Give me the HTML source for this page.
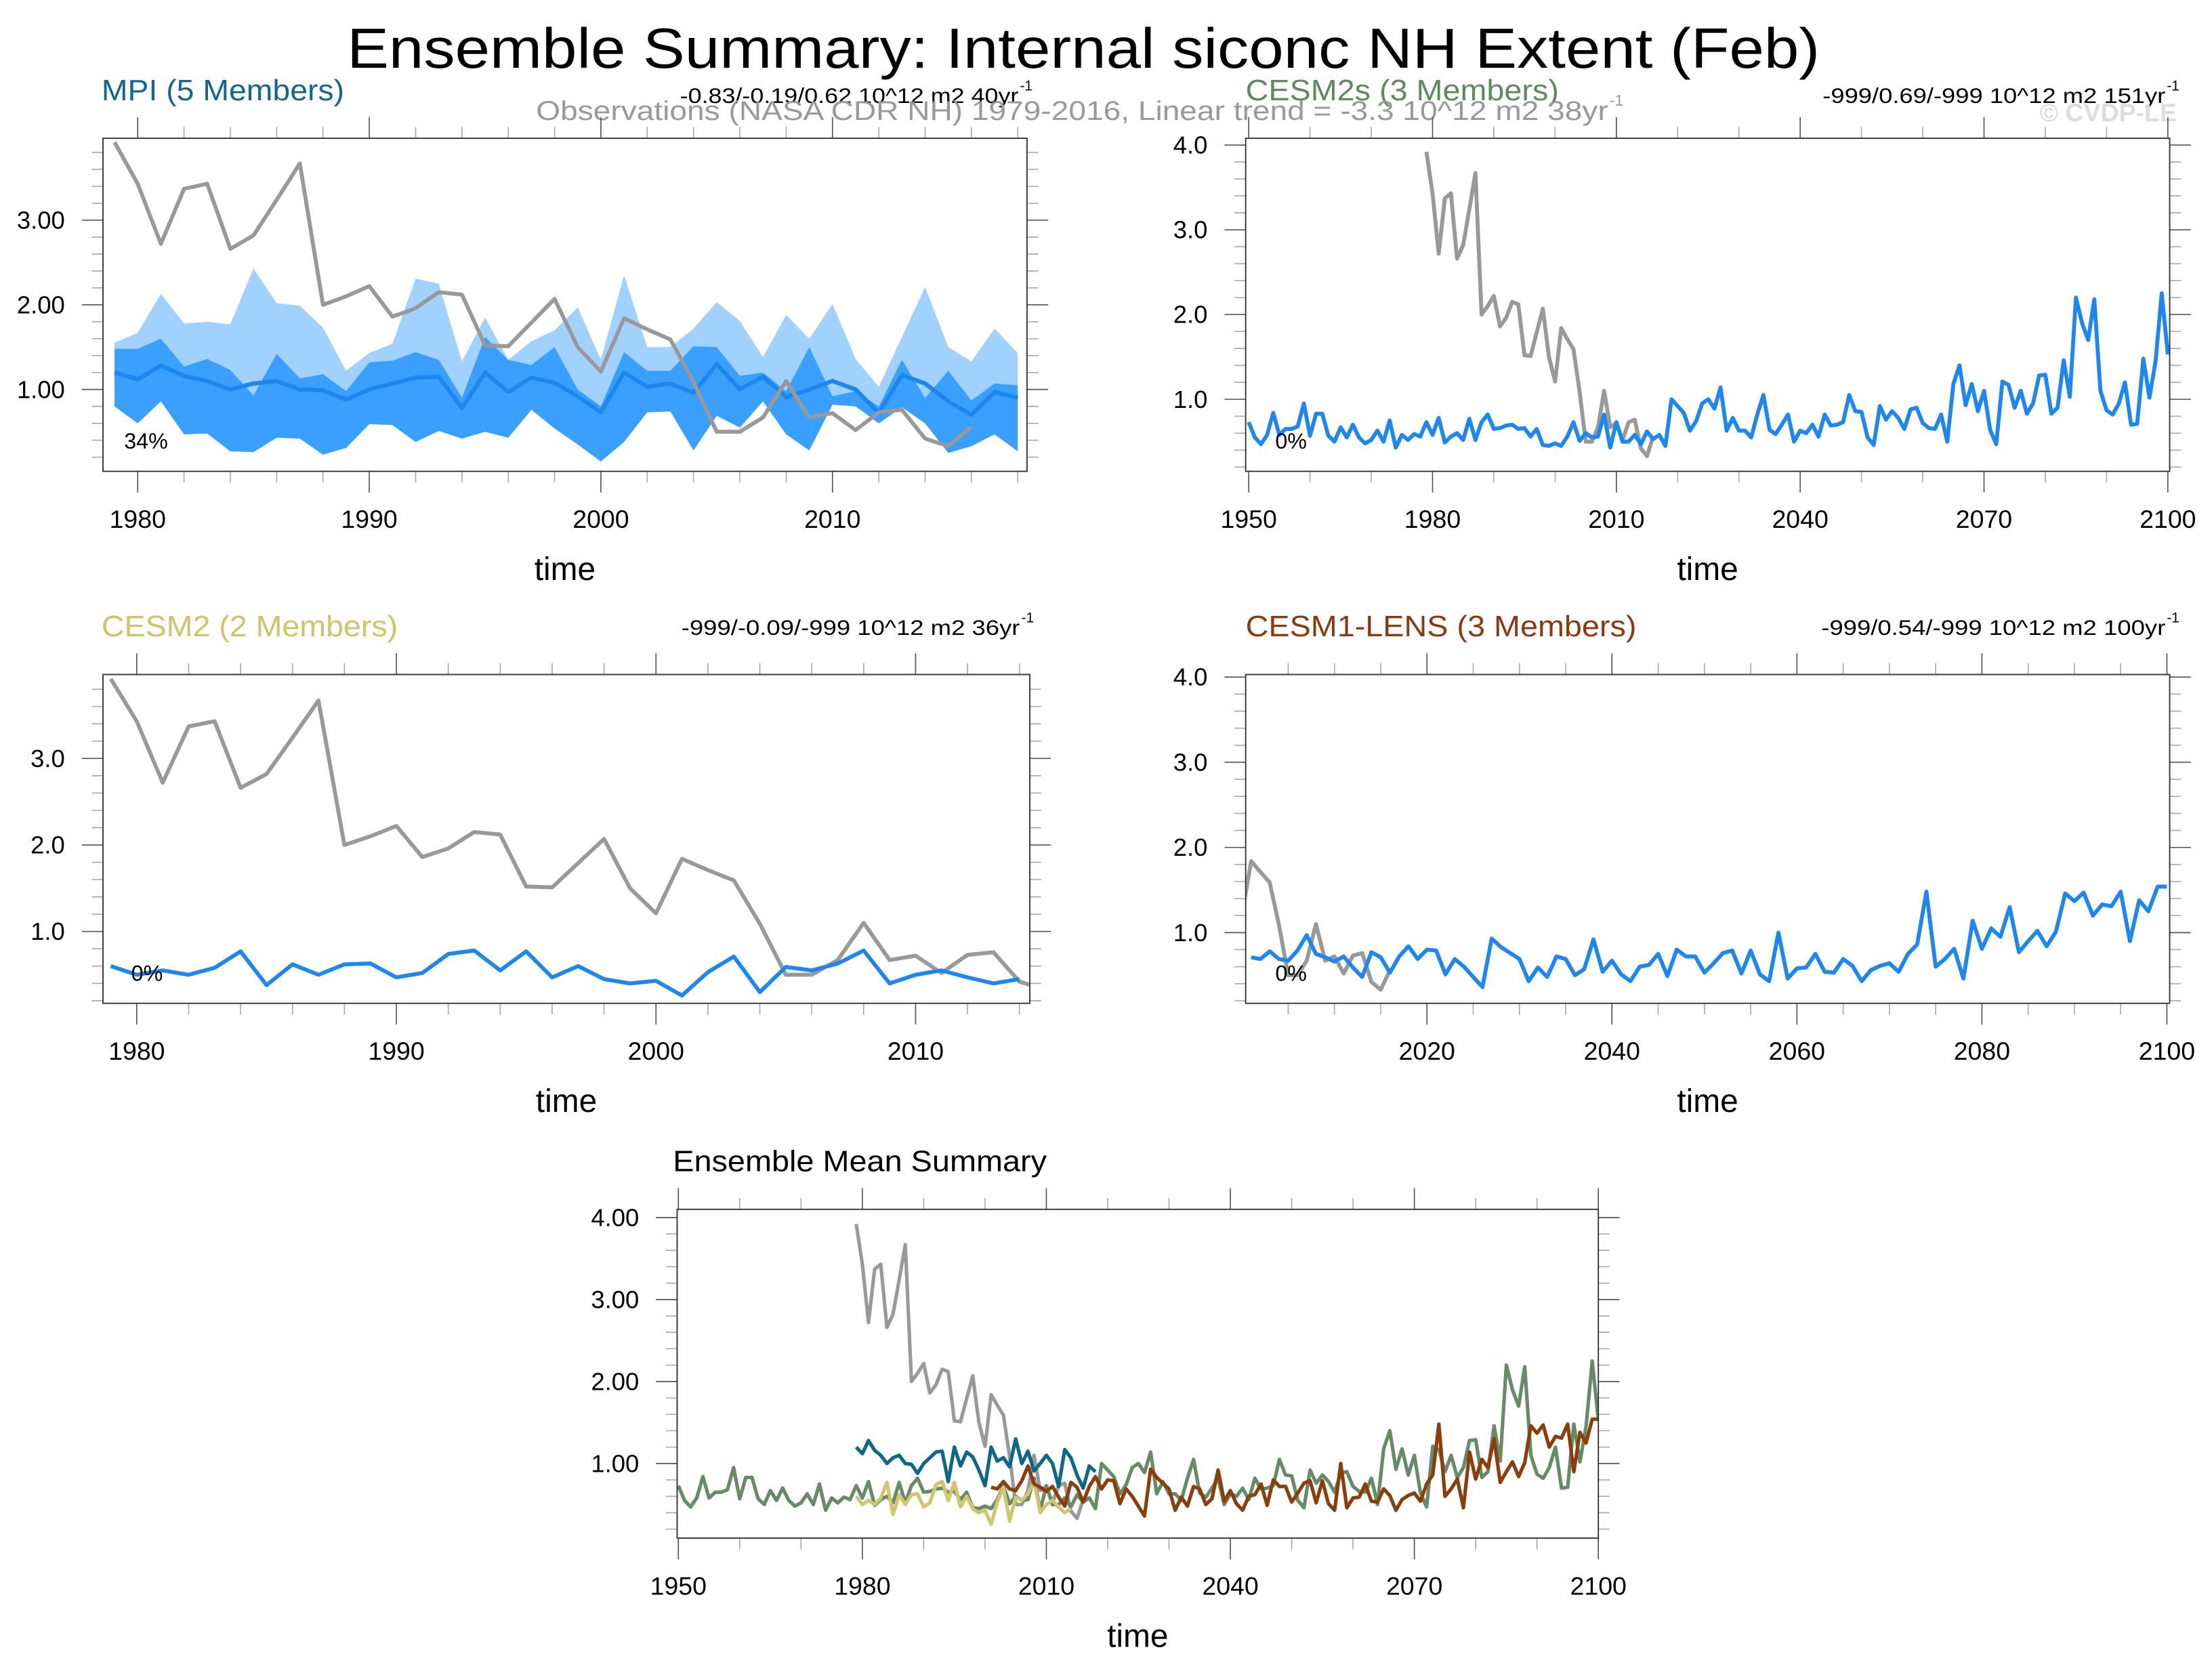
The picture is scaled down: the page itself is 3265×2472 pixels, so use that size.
<!DOCTYPE html>
<html><head><meta charset="utf-8"><style>
html,body{margin:0;padding:0;background:#fff;}
svg{display:block;}
text{font-family:"Liberation Sans",Arial,sans-serif;}
</style></head><body>
<svg id="chart" xmlns="http://www.w3.org/2000/svg" width="3265" height="2472" viewBox="0 0 1568 1187" preserveAspectRatio="none">
<rect x="0" y="0" width="1568" height="1187" fill="#fff"/>
<text x="768" y="48" font-size="40" text-anchor="middle" textLength="1044" lengthAdjust="spacingAndGlyphs">Ensemble Summary: Internal siconc NH Extent (Feb)</text>
<text x="72" y="71" font-size="21" fill="#14678a" textLength="172" lengthAdjust="spacingAndGlyphs">MPI (5 Members)</text>
<text x="482" y="73" font-size="15" textLength="240" lengthAdjust="spacingAndGlyphs">-0.83/-0.19/0.62 10^12 m2 40yr</text>
<text x="723" y="64" font-size="10">-1</text>
<text x="883" y="71" font-size="21" fill="#5f8a5f" textLength="222" lengthAdjust="spacingAndGlyphs">CESM2s (3 Members)</text>
<text x="1292" y="73" font-size="15" textLength="243" lengthAdjust="spacingAndGlyphs">-999/0.69/-999 10^12 m2 151yr</text>
<text x="1536" y="64" font-size="10">-1</text>
<text x="380" y="85" font-size="19" fill="#999" textLength="760" lengthAdjust="spacingAndGlyphs">Observations (NASA CDR NH) 1979-2016, Linear trend = -3.3 10^12 m2 38yr</text>
<text x="1141" y="75" font-size="11" fill="#999">-1</text>
<text x="1543" y="86" font-size="18" font-weight="bold" fill="#ddd" text-anchor="end">© CVDP-LE</text>
<text x="72" y="451" font-size="21" fill="#cdc46c" textLength="210" lengthAdjust="spacingAndGlyphs">CESM2 (2 Members)</text>
<text x="483" y="450" font-size="15" textLength="240" lengthAdjust="spacingAndGlyphs">-999/-0.09/-999 10^12 m2 36yr</text>
<text x="724" y="441" font-size="10">-1</text>
<text x="883" y="451" font-size="21" fill="#8a3a10" textLength="277" lengthAdjust="spacingAndGlyphs">CESM1-LENS (3 Members)</text>
<text x="1291" y="450" font-size="15" textLength="244" lengthAdjust="spacingAndGlyphs">-999/0.54/-999 10^12 m2 100yr</text>
<text x="1536" y="441" font-size="10">-1</text>
<text x="477" y="830" font-size="21" textLength="265" lengthAdjust="spacingAndGlyphs">Ensemble Mean Summary</text>
<g id="plots"></g>
</svg>
<script>
// ---- data ----
const obsYears0 = 1979;
const obsValues = [3.92,3.43,2.72,3.37,3.43,2.66,2.82,3.24,3.67,2.00,2.10,2.22,1.86,1.96,2.15,2.12,1.52,1.51,1.79,2.07,1.50,1.21,1.84,1.71,1.59,1.09,0.50,0.50,0.67,1.10,0.67,0.72,0.52,0.73,0.76,0.42,0.33,0.56];
const mpiStart = 1979;
const mpiMean = [1.20,1.12,1.28,1.16,1.10,1.00,1.07,1.10,1.00,0.99,0.88,1.00,1.07,1.14,1.15,0.78,1.20,0.97,1.14,1.08,0.92,0.73,1.20,1.03,1.07,0.96,1.30,1.00,1.15,0.91,1.00,1.10,1.00,0.72,1.17,1.07,0.86,0.70,0.97,0.90];
const mpiMax = [1.55,1.67,2.13,1.78,1.80,1.77,2.43,2.02,1.99,1.73,1.22,1.43,1.54,2.31,2.25,1.33,1.85,1.35,1.57,1.70,1.97,1.35,2.35,1.50,1.50,1.72,2.03,1.81,1.38,1.88,1.60,2.01,1.36,1.03,1.62,2.21,1.50,1.33,1.72,1.43];
const mpiUpper = [1.48,1.48,1.60,1.27,1.36,1.23,0.93,1.42,1.13,1.18,0.98,1.32,1.34,1.44,1.35,0.90,1.62,1.35,1.29,1.50,1.00,0.80,1.44,1.22,1.22,1.51,1.50,1.16,1.20,0.98,1.50,0.92,0.98,0.80,1.35,0.90,1.22,0.87,1.07,1.05];
const mpiMin = [0.80,0.60,0.86,0.47,0.48,0.27,0.26,0.43,0.42,0.23,0.31,0.59,0.58,0.38,0.51,0.42,0.50,0.43,0.76,0.54,0.35,0.15,0.38,0.73,0.74,0.28,0.69,0.55,0.86,0.47,0.28,0.82,0.80,0.60,0.79,0.60,0.25,0.33,0.47,0.27];
const cesm2sStart = 1950;
const cesm2sMean = [0.73,0.55,0.47,0.58,0.84,0.58,0.65,0.65,0.68,0.95,0.57,0.83,0.83,0.57,0.50,0.67,0.55,0.70,0.55,0.48,0.52,0.63,0.50,0.75,0.43,0.58,0.52,0.59,0.56,0.73,0.58,0.78,0.49,0.56,0.60,0.52,0.77,0.52,0.73,0.82,0.65,0.66,0.69,0.70,0.65,0.66,0.56,0.65,0.46,0.45,0.48,0.45,0.56,0.73,0.51,0.60,0.55,0.56,0.82,0.43,0.73,0.50,0.50,0.58,0.47,0.62,0.53,0.58,0.45,1.00,0.92,0.84,0.63,0.74,0.95,1.00,0.89,1.14,0.63,0.78,0.63,0.63,0.55,0.82,1.05,0.64,0.59,0.70,0.82,0.50,0.63,0.60,0.70,0.56,0.82,0.69,0.70,0.73,1.05,0.86,0.85,0.55,0.46,0.92,0.76,0.86,0.78,0.65,0.88,0.90,0.72,0.66,0.65,0.82,0.50,1.18,1.40,0.93,1.18,0.86,1.10,0.64,0.47,1.21,1.17,0.90,1.10,0.83,0.95,1.28,1.29,0.83,0.90,1.46,1.03,2.20,1.90,1.70,2.18,1.10,0.87,0.82,0.95,1.20,0.70,0.71,1.48,1.02,1.45,2.25,1.53];
const cesm2Start = 1979;
const cesm2Mean = [0.60,0.50,0.55,0.50,0.58,0.77,0.38,0.62,0.50,0.62,0.63,0.47,0.52,0.74,0.78,0.55,0.77,0.47,0.60,0.45,0.40,0.43,0.26,0.53,0.71,0.30,0.59,0.55,0.63,0.78,0.40,0.50,0.55,0.47,0.40,0.45];
const lensStart = 2001;
const lensMean = [0.71,0.69,0.78,0.69,0.67,0.79,0.97,0.75,0.71,0.66,0.72,0.59,0.48,0.77,0.71,0.53,0.72,0.84,0.69,0.80,0.79,0.51,0.69,0.60,0.48,0.36,0.93,0.83,0.76,0.69,0.43,0.59,0.48,0.72,0.69,0.50,0.57,0.92,0.54,0.67,0.51,0.43,0.60,0.62,0.75,0.49,0.80,0.72,0.72,0.53,0.64,0.76,0.79,0.52,0.79,0.51,0.43,1.00,0.46,0.58,0.59,0.75,0.54,0.53,0.69,0.61,0.43,0.56,0.61,0.64,0.54,0.75,0.86,1.48,0.60,0.69,0.81,0.46,1.14,0.81,1.05,0.95,1.30,0.77,0.90,1.02,0.84,1.01,1.46,1.37,1.47,1.20,1.33,1.31,1.48,0.90,1.38,1.25,1.54,1.54];
const pctLabels = ["34%","0%","0%","0%"];

// ---- drawing ----
const NS = "http://www.w3.org/2000/svg";
const root = document.getElementById('plots');
function el(tag, attrs, parent){
  const e = document.createElementNS(NS, tag);
  for (const k in attrs) e.setAttribute(k, attrs[k]);
  (parent||root).appendChild(e);
  return e;
}
function makeAxes(p){
  const sx = v => p.x0 + (v - p.xmin) / (p.xmax - p.xmin) * (p.x1 - p.x0);
  const sy = v => p.y1 - (v - p.ymin) / (p.ymax - p.ymin) * (p.y1 - p.y0);
  const g = el('g', {});
  
  
  const clipId = p.name + '-clip';
  const cp = el('clipPath', {id: clipId}, g);
  el('rect', {x:p.x0, y:p.y0, width:p.x1-p.x0, height:p.y1-p.y0}, cp);
  const marks = el('g', {'clip-path':'url(#'+clipId+')'}, g);
  for (let v = p.xMinorStart; v <= p.xmax + 1e-6; v += p.xMinorStep) {
    const x = sx(v);
    if (x < p.x0 - 0.5 || x > p.x1 + 0.5) continue;
    const isMaj = p.xMajor.some(m => Math.abs(m - v) < 1e-6);
    const L = isMaj ? 15 : 8;
    const t1 = el('line', {x1:x, x2:x, y1:p.y0, y2:p.y0-L, stroke: isMaj?'#555':'#aaa', 'stroke-width':0.8}, g);
    
    
    const t2 = el('line', {x1:x, x2:x, y1:p.y1, y2:p.y1+L, stroke: isMaj?'#555':'#aaa', 'stroke-width':0.8}, g);
    
    
  }
  p.xMajor.forEach(m => {
    const t = el('text', {x:sx(m), y:p.y1+40, 'font-size':18, 'text-anchor':'middle'}, g);
    t.textContent = String(m);
    
    
  });
  for (let k = 1; k * p.yMinorStep <= p.ymax; k++) {
    const v = k * p.yMinorStep;
    if (v < p.ymin) continue;
    const y = sy(v);
    const isMaj = Math.abs(v - Math.round(v)) < 1e-6;
    const L = isMaj ? 15 : 8;
    const a = el('line', {x1:p.x0, x2:p.x0-L, y1:y, y2:y, stroke: isMaj?'#555':'#aaa', 'stroke-width':0.8}, g);
    
    
    const b = el('line', {x1:p.x1, x2:p.x1+L, y1:y, y2:y, stroke: isMaj?'#555':'#aaa', 'stroke-width':0.8}, g);
    
    
    if (isMaj) {
      const t = el('text', {x:p.x0-27, y:y+6, 'font-size':17.5, 'text-anchor':'end'}, g);
      t.textContent = v.toFixed(p.yDec);
      
      
    }
  }
  const tt = el('text', {x:(p.x0+p.x1)/2, y:p.y1+77, 'font-size':23, 'text-anchor':'middle'}, g);
  tt.textContent = 'time';
  
  
  return {sx, sy, g, marks, p};
}
function line(ax, start, vals, color, w, name){
  const pts = vals.map((v,i) => ax.sx(start+i).toFixed(2)+','+ax.sy(v).toFixed(2)).join(' ');
  const e = el('polyline', {points:pts, fill:'none', stroke:color, 'stroke-width':w, 'stroke-linejoin':'round'}, ax.marks);
  
  
}
function band(ax, start, lo, hi, color, name){
  const top = hi.map((v,i) => ax.sx(start+i).toFixed(2)+','+ax.sy(v).toFixed(2));
  const bot = lo.map((v,i) => ax.sx(start+i).toFixed(2)+','+ax.sy(v).toFixed(2)).reverse();
  const e = el('polygon', {points: top.concat(bot).join(' '), fill:color, stroke:'none'}, ax.marks);
  
  
}
function frame(ax){
  const p = ax.p;
  const r = el('rect', {x:p.x0, y:p.y0, width:p.x1-p.x0, height:p.y1-p.y0, fill:'none', stroke:'#333', 'stroke-width':0.9}, ax.g);
  
  
}
function pct(ax, x, y, s){
  const t = el('text', {x:x, y:y, 'font-size':15.5}, ax.g);
  t.textContent = s;
  
  
}
const BLUE = '#1e87ef', OBS = '#999';

const a1 = makeAxes({name:'mpi-panel', x0:73, x1:728, y0:98, y1:334, xmin:1978.5, xmax:2018.4, ymin:0.033, ymax:3.967, xMajor:[1980,1990,2000,2010], xMinorStart:1980, xMinorStep:2, yMinorStep:0.2, yDec:2});
band(a1, mpiStart, mpiMin, mpiMax, '#a1d2ff', 'mpi-range-band');
band(a1, mpiStart, mpiMin, mpiUpper, '#39a0ff', 'mpi-spread-band');
line(a1, mpiStart, mpiMean, BLUE, 3, 'mpi-ensemble-mean-line');
line(a1, obsYears0, obsValues, OBS, 2.8, 'observations-line');
frame(a1); pct(a1, 88, 318, pctLabels[0]);

const a2 = makeAxes({name:'cesm2s-panel', x0:883, x1:1538, y0:98, y1:334, xmin:1949.5, xmax:2100.3, ymin:0.15, ymax:4.08, xMajor:[1950,1980,2010,2040,2070,2100], xMinorStart:1950, xMinorStep:10, yMinorStep:0.2, yDec:1});
line(a2, obsYears0, obsValues, OBS, 2.8, 'observations-line');
line(a2, cesm2sStart, cesm2sMean, BLUE, 2.8, 'cesm2s-ensemble-mean-line');
frame(a2); pct(a2, 904, 318, pctLabels[1]);

const a3 = makeAxes({name:'cesm2-panel', x0:73, x1:730, y0:478, y1:711, xmin:1978.7, xmax:2014.4, ymin:0.17, ymax:3.97, xMajor:[1980,1990,2000,2010], xMinorStart:1980, xMinorStep:2, yMinorStep:0.2, yDec:1});
line(a3, obsYears0, obsValues, OBS, 2.8, 'observations-line');
line(a3, cesm2Start, cesm2Mean, BLUE, 2.8, 'cesm2-ensemble-mean-line');
frame(a3); pct(a3, 93, 695, pctLabels[2]);

const a4 = makeAxes({name:'cesm1-lens-panel', x0:883, x1:1538, y0:478, y1:711, xmin:2000.4, xmax:2100.3, ymin:0.17, ymax:4.03, xMajor:[2020,2040,2060,2080,2100], xMinorStart:2005, xMinorStep:5, yMinorStep:0.2, yDec:1});
line(a4, obsYears0, obsValues, OBS, 2.8, 'observations-line');
line(a4, lensStart, lensMean, BLUE, 2.8, 'cesm1-lens-ensemble-mean-line');
frame(a4); pct(a4, 904, 695, pctLabels[3]);

const a5 = makeAxes({name:'ensemble-mean-panel', x0:480, x1:1133, y0:857, y1:1090, xmin:1949.8, xmax:2100, ymin:0.09, ymax:4.10, xMajor:[1950,1980,2010,2040,2070,2100], xMinorStart:1950, xMinorStep:10, yMinorStep:0.2, yDec:2});
line(a5, obsYears0, obsValues, OBS, 2.5, 'observations-line');
line(a5, cesm2sStart, cesm2sMean, '#678a67', 2.5, 'cesm2s-mean-line');
line(a5, mpiStart, mpiMean, '#0d6787', 2.5, 'mpi-mean-line');
line(a5, cesm2Start, cesm2Mean, '#cfc66e', 2.5, 'cesm2-mean-line');
line(a5, lensStart, lensMean, '#8b3d0c', 2.5, 'cesm1-lens-mean-line');
frame(a5);
</script>
</body></html>
